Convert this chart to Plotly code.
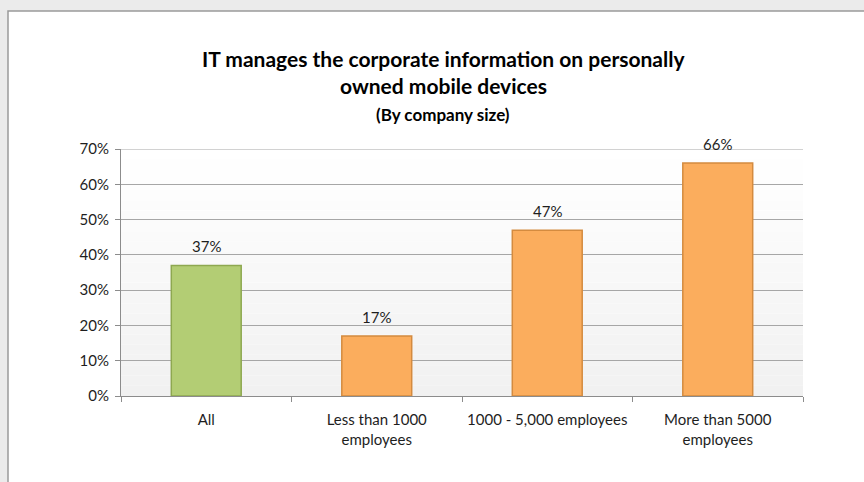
import plotly.graph_objects as go

# Survey results by company size
categories = ["All", "Less than 1000<br>employees", "1000 - 5,000 employees", "More than 5000<br>employees"]
values = [0.37, 0.17, 0.47, 0.66]
value_labels = ["37%", "17%", "47%", "66%"]
fill_colors = ["#b3cd74", "#fbad5d", "#fbad5d", "#fbad5d"]
edge_colors = ["#8ea850", "#d48b3f", "#d48b3f", "#d48b3f"]
y_max = 0.7

W, H = 864, 482
ML, MR, MT, MB = 121, 61, 149, 86
PW, PH = W - ML - MR, H - MT - MB

FONT = "Lato, 'Open Sans', sans-serif"
TXT = "#1e1e1e"


def px_x(p):
    return (p - ML) / PW


def px_y(p):
    return (H - MB - p) / PH


fig = go.Figure()
fig.add_trace(go.Bar(
    x=categories,
    y=values,
    marker=dict(color=fill_colors, line=dict(color=edge_colors, width=1.5)),
    hoverinfo="skip",
))

shapes = []
# chart frame on a light grey page
shapes.append(dict(type="rect", xref="paper", yref="paper", layer="below",
                   x0=px_x(8), x1=px_x(900), y0=px_y(520), y1=px_y(11),
                   fillcolor="white", line=dict(color="#9a9a9a", width=1.5)))
# soft vertical gradient inside the plot area
n = 24
for i in range(n):
    t = i / (n - 1)
    g = int(round(241 + (255 - 241) * t))
    shapes.append(dict(type="rect", xref="paper", yref="paper", layer="below",
                       x0=0, x1=1, y0=i / n, y1=(i + 1) / n,
                       fillcolor=f"rgb({g},{g},{g})", line=dict(width=0)))
# top gridline at the axis maximum
shapes.append(dict(type="line", xref="paper", yref="y", layer="below",
                   x0=0, x1=1, y0=y_max, y1=y_max, line=dict(color="#a6a6a6", width=1)))

annotations = [
    dict(text="<b>IT manages the corporate information on personally</b>",
         xref="paper", yref="paper", x=px_x(443), y=px_y(59), xanchor="center", yanchor="middle",
         showarrow=False, font=dict(family=FONT, size=21, color="#000000")),
    dict(text="<b>owned mobile devices</b>",
         xref="paper", yref="paper", x=px_x(443), y=px_y(86), xanchor="center", yanchor="middle",
         showarrow=False, font=dict(family=FONT, size=21, color="#000000")),
    dict(text="<b>(By company size)</b>",
         xref="paper", yref="paper", x=px_x(443), y=px_y(114), xanchor="center", yanchor="middle",
         showarrow=False, font=dict(family=FONT, size=17, color="#000000")),
]
# value labels above each bar
for c, v, lab in zip(categories, values, value_labels):
    annotations.append(dict(text=lab, x=c, y=v, xref="x", yref="y",
                            xanchor="center", yanchor="bottom", yshift=8,
                            showarrow=False, font=dict(family=FONT, size=15, color=TXT)))

fig.update_layout(
    width=W, height=H,
    margin=dict(l=ML, r=MR, t=MT, b=MB, autoexpand=False),
    paper_bgcolor="#ebebeb",
    plot_bgcolor="rgba(0,0,0,0)",
    showlegend=False,
    bargap=0.59,
    shapes=shapes,
    annotations=annotations,
    font=dict(family=FONT, size=15, color=TXT),
)

fig.update_xaxes(
    type="category",
    tickson="boundaries",
    tickangle=0,
    automargin=False,
    ticks="outside", ticklen=5, tickcolor="#8c8c8c",
    showline=True, linecolor="#8c8c8c", linewidth=1,
    showgrid=False,
    ticklabelstandoff=10,
    tickfont=dict(family=FONT, size=15, color=TXT),
)
fig.update_yaxes(
    range=[0, y_max], dtick=0.1, tickformat=".0%",
    automargin=False,
    ticks="outside", ticklen=5, tickcolor="#8c8c8c",
    showline=True, linecolor="#8c8c8c", linewidth=1,
    showgrid=True, gridcolor="#a6a6a6", gridwidth=1,
    zeroline=False,
    ticklabelstandoff=3,
    tickfont=dict(family=FONT, size=15, color=TXT),
)

fig.write_html("out.html")
